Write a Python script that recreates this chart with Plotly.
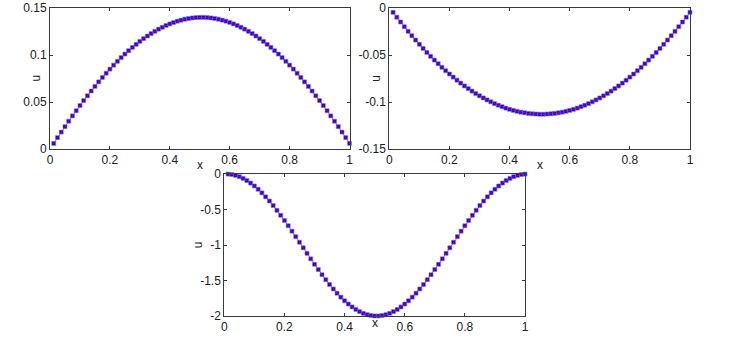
"""
Three panels: computed solution (blue squares) over exact solution (red line)
"""

import plotly.graph_objects as go


# grid points (plotted x positions)
x_grid = [
    0.0125, 0.025, 0.0375, 0.05, 0.0625, 0.075, 0.0875, 0.1, 0.1125, 0.125,
    0.1375, 0.15, 0.1625, 0.175, 0.1875, 0.2, 0.2125, 0.225, 0.2375, 0.25,
    0.2625, 0.275, 0.2875, 0.3, 0.3125, 0.325, 0.3375, 0.35, 0.3625, 0.375,
    0.3875, 0.4, 0.4125, 0.425, 0.4375, 0.45, 0.4625, 0.475, 0.4875, 0.5,
    0.5125, 0.525, 0.5375, 0.55, 0.5625, 0.575, 0.5875, 0.6, 0.6125, 0.625,
    0.6375, 0.65, 0.6625, 0.675, 0.6875, 0.7, 0.7125, 0.725, 0.7375, 0.75,
    0.7625, 0.775, 0.7875, 0.8, 0.8125, 0.825, 0.8375, 0.85, 0.8625, 0.875,
    0.8875, 0.9, 0.9125, 0.925, 0.9375, 0.95, 0.9625, 0.975, 0.9875, 1.0,
]

# panel 1 (top left)
u_top_left = [
    0.0060, 0.0121, 0.0180, 0.0238, 0.0296, 0.0352, 0.0407, 0.0462, 0.0515, 0.0566,
    0.0617, 0.0666, 0.0714, 0.0761, 0.0806, 0.0850, 0.0892, 0.0933, 0.0972, 0.1010,
    0.1046, 0.1081, 0.1113, 0.1145, 0.1174, 0.1202, 0.1228, 0.1252, 0.1275, 0.1295,
    0.1314, 0.1331, 0.1346, 0.1360, 0.1371, 0.1381, 0.1388, 0.1394, 0.1398, 0.1400,
    0.1400, 0.1398, 0.1394, 0.1388, 0.1381, 0.1371, 0.1360, 0.1346, 0.1331, 0.1314,
    0.1295, 0.1275, 0.1252, 0.1228, 0.1202, 0.1174, 0.1145, 0.1113, 0.1081, 0.1046,
    0.1010, 0.0972, 0.0933, 0.0892, 0.0850, 0.0806, 0.0761, 0.0714, 0.0666, 0.0617,
    0.0566, 0.0515, 0.0462, 0.0407, 0.0352, 0.0296, 0.0238, 0.0180, 0.0121, 0.0060,
]

# panel 2 (top right)
u_top_right = [
    -0.0046, -0.0098, -0.0149, -0.0199, -0.0248, -0.0295, -0.0341, -0.0386, -0.0430, -0.0473,
    -0.0514, -0.0554, -0.0593, -0.0631, -0.0667, -0.0702, -0.0735, -0.0768, -0.0799, -0.0829,
    -0.0857, -0.0884, -0.0910, -0.0934, -0.0957, -0.0978, -0.0998, -0.1017, -0.1034, -0.1050,
    -0.1065, -0.1078, -0.1089, -0.1099, -0.1108, -0.1115, -0.1121, -0.1125, -0.1128, -0.1130,
    -0.1130, -0.1128, -0.1125, -0.1121, -0.1115, -0.1108, -0.1099, -0.1089, -0.1078, -0.1065,
    -0.1050, -0.1034, -0.1017, -0.0998, -0.0978, -0.0957, -0.0934, -0.0910, -0.0884, -0.0857,
    -0.0829, -0.0799, -0.0768, -0.0735, -0.0702, -0.0667, -0.0631, -0.0593, -0.0554, -0.0514,
    -0.0473, -0.0430, -0.0386, -0.0341, -0.0295, -0.0248, -0.0199, -0.0149, -0.0098, -0.0046,
]

# panel 3 (bottom)
u_bottom = [
    -0.0008, -0.0069, -0.0192, -0.0375, -0.0618, -0.0919, -0.1275, -0.1685, -0.2147, -0.2657,
    -0.3212, -0.3809, -0.4444, -0.5114, -0.5814, -0.6539, -0.7286, -0.8049, -0.8825, -0.9607,
    -1.0393, -1.1175, -1.1951, -1.2714, -1.3461, -1.4187, -1.4886, -1.5556, -1.6191, -1.6788,
    -1.7343, -1.7853, -1.8315, -1.8725, -1.9081, -1.9382, -1.9625, -1.9808, -1.9931, -1.9992,
    -1.9992, -1.9931, -1.9808, -1.9625, -1.9382, -1.9081, -1.8725, -1.8315, -1.7853, -1.7343,
    -1.6788, -1.6191, -1.5556, -1.4886, -1.4187, -1.3461, -1.2714, -1.1951, -1.1175, -1.0393,
    -0.9607, -0.8825, -0.8049, -0.7286, -0.6539, -0.5814, -0.5114, -0.4444, -0.3809, -0.3212,
    -0.2657, -0.2147, -0.1685, -0.1275, -0.0919, -0.0618, -0.0375, -0.0192, -0.0069, -0.0008,
]

# tick labels
x_ticks = [0, 0.2, 0.4, 0.6, 0.8, 1]
x_tick_text = ["0", "0.2", "0.4", "0.6", "0.8", "1"]
y_ticks_top_left = [0, 0.05, 0.1, 0.15]
y_tick_text_top_left = ["0", "0.05", "0.1", "0.15"]
y_ticks_top_right = [-0.15, -0.1, -0.05, 0]
y_tick_text_top_right = ["-0.15", "-0.1", "-0.05", "0"]
y_ticks_bottom = [-2, -1.5, -1, -0.5, 0]
y_tick_text_bottom = ["-2", "-1.5", "-1", "-0.5", "0"]


W, H = 743, 340
FONT = "Liberation Sans, Arial, sans-serif"
AXIS_COLOR = "#3a3a3a"
TEXT_COLOR = "#202020"


def px_x(p):
    return p / W


def px_y(p):
    return 1 - p / H


def add_panel(fig, n, u):
    xa = "x" if n == 1 else f"x{n}"
    ya = "y" if n == 1 else f"y{n}"
    # numerical solution - blue squares
    fig.add_trace(go.Scatter(
        x=x_grid, y=u, xaxis=xa, yaxis=ya, mode="markers",
        marker=dict(symbol="square", size=4, color="#0000ff",
                    line=dict(color="rgba(120,120,255,0.6)", width=1)),
        cliponaxis=False, showlegend=False
    ))
    # exact solution - thin red line drawn on top
    fig.add_trace(go.Scatter(
        x=x_grid, y=u, xaxis=xa, yaxis=ya, mode="lines+markers",
        line=dict(color="#ff0000", width=0.6),
        marker=dict(size=1.2, color="#e00000"),
        cliponaxis=False, showlegend=False
    ))


def axis_style(domain, tickvals, ticktext, rng, anchor):
    return dict(
        domain=domain, range=rng, anchor=anchor,
        tickmode="array", tickvals=tickvals, ticktext=ticktext,
        showline=True, linecolor=AXIS_COLOR, linewidth=1, mirror="ticks",
        ticks="inside", ticklen=3, tickcolor=AXIS_COLOR, tickwidth=1,
        showgrid=False, zeroline=False, automargin=False,
        tickfont=dict(family=FONT, size=12, color=TEXT_COLOR),
    )


fig = go.Figure()
add_panel(fig, 1, u_top_left)
add_panel(fig, 2, u_top_right)
add_panel(fig, 3, u_bottom)

# panel positions in pixels: (left, right, top, bottom)
top_left_box = (50, 349.5, 8, 149)
top_right_box = (389.3, 690, 8, 149)
bottom_box = (224.3, 525, 174, 316)

# label offsets per panel: (u to the left of axis, x below axis)
label_offsets = [(15, 16), (14, 16), (26, 7)]


def dom(box):
    return [px_x(box[0]), px_x(box[1])], [px_y(box[3]), px_y(box[2])]


xd1, yd1 = dom(top_left_box)
xd2, yd2 = dom(top_right_box)
xd3, yd3 = dom(bottom_box)

fig.update_layout(
    width=W, height=H,
    margin=dict(l=0, r=0, t=0, b=0),
    paper_bgcolor="white", plot_bgcolor="white",
    template="none",
    font=dict(family=FONT, size=12, color=TEXT_COLOR),
    xaxis=axis_style(xd1, x_ticks, x_tick_text, [0, 1], "y"),
    yaxis=axis_style(yd1, y_ticks_top_left, y_tick_text_top_left, [0, 0.15], "x"),
    xaxis2=axis_style(xd2, x_ticks, x_tick_text, [0, 1], "y2"),
    yaxis2=axis_style(yd2, y_ticks_top_right, y_tick_text_top_right, [-0.15, 0], "x2"),
    xaxis3=axis_style(xd3, x_ticks, x_tick_text, [0, 1], "y3"),
    yaxis3=axis_style(yd3, y_ticks_bottom, y_tick_text_bottom, [-2, 0], "x3"),
)

# axis labels ("x" sits inside the tick label row, like the original)
for box, (du, dx) in zip((top_left_box, top_right_box, bottom_box), label_offsets):
    cx = (box[0] + box[1]) / 2
    cy = (box[2] + box[3]) / 2
    fig.add_annotation(text="x", xref="paper", yref="paper",
                       x=px_x(cx), y=px_y(box[3] + dx), xanchor="center", yanchor="middle",
                       showarrow=False, font=dict(family=FONT, size=12, color=TEXT_COLOR))
    fig.add_annotation(text="u", xref="paper", yref="paper",
                       x=px_x(box[0] - du), y=px_y(cy), xanchor="center", yanchor="middle",
                       textangle=-90, showarrow=False,
                       font=dict(family=FONT, size=12, color=TEXT_COLOR))

# page body has a default 8px margin - remove it so the figure sits at the corner
fig.write_html("out.html", config={"displayModeBar": False},
               post_script="document.body.style.margin='0';")
